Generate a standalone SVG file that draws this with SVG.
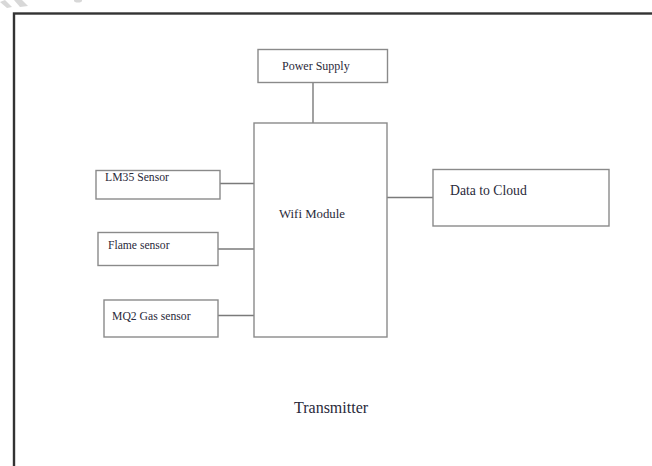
<svg xmlns="http://www.w3.org/2000/svg" width="652" height="466" viewBox="0 0 652 466">
  <style>
    .box { fill: #ffffff; stroke: #8a8a8a; stroke-width: 1.4; }
    .wire { stroke: #7a7a7a; stroke-width: 1.4; fill: none; }
    .lbl { font-family: "Liberation Serif", "Times New Roman", serif; fill: #2a2a3a; }
  </style>
  <rect width="652" height="466" fill="#ffffff"/>
  <!-- faint corner mark -->
  <g id="corner-mark" fill="#d8d8d8">
    <polygon points="0,2 5,0 12,7 7,8"/>
    <polygon points="14,0 22,0 28,6 20,7"/>
    <ellipse cx="78" cy="0.5" rx="4" ry="2"/>
  </g>
  <!-- outer frame -->
  <rect id="frame" x="14" y="13.5" width="700" height="500" fill="none" stroke="#333333" stroke-width="2.4"/>

  <g id="connectors">
    <line class="wire" x1="313" y1="83" x2="313" y2="123"/>
    <line class="wire" x1="220" y1="183.5" x2="254" y2="183.5"/>
    <line class="wire" x1="218" y1="249" x2="254" y2="249"/>
    <line class="wire" x1="218" y1="315.5" x2="254" y2="315.5"/>
    <line class="wire" x1="387" y1="197.5" x2="433" y2="197.5"/>
  </g>

  <g id="power-supply">
    <rect class="box" x="258" y="49.5" width="129.5" height="33"/>
    <text class="lbl" x="282" y="70" font-size="12">Power Supply</text>
  </g>
  <g id="wifi-module">
    <rect class="box" x="254" y="123" width="133" height="214"/>
    <text class="lbl" x="279" y="218" font-size="12.8">Wifi Module</text>
  </g>
  <g id="lm35-sensor">
    <rect class="box" x="96" y="170.5" width="124" height="28.5"/>
    <text class="lbl" x="105" y="181" font-size="11.7">LM35 Sensor</text>
  </g>
  <g id="flame-sensor">
    <rect class="box" x="98" y="232.5" width="120" height="33"/>
    <text class="lbl" x="108" y="249" font-size="11.6">Flame sensor</text>
  </g>
  <g id="mq2-gas-sensor">
    <rect class="box" x="104" y="300" width="114" height="37"/>
    <text class="lbl" x="112" y="320" font-size="11.7">MQ2 Gas sensor</text>
  </g>
  <g id="data-to-cloud">
    <rect class="box" x="433" y="169.5" width="176" height="56.5"/>
    <text class="lbl" x="450" y="195" font-size="13.7">Data to Cloud</text>
  </g>

  <text id="caption" class="lbl" x="294" y="413" font-size="16">Transmitter</text>
</svg>
